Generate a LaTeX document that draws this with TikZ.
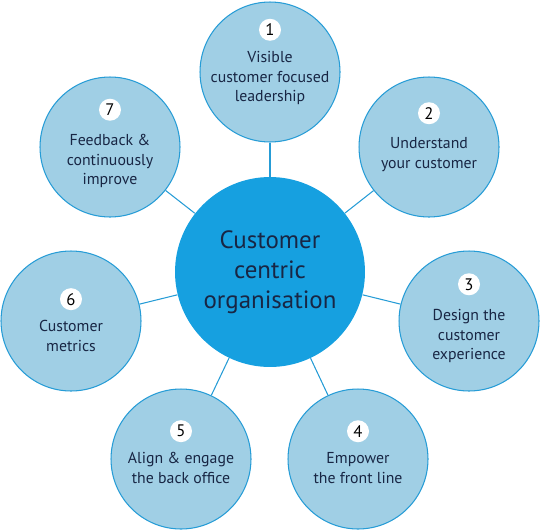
\documentclass[tikz,border=0pt]{standalone}
\usepackage{fontspec}
\setmainfont{PT Sans}
\usetikzlibrary{positioning}
\definecolor{ringblue}{RGB}{160,207,229}
\definecolor{coreblue}{RGB}{22,160,224}
\definecolor{edgeblue}{RGB}{38,156,214}
\definecolor{inkblue}{RGB}{24,38,68}

\begin{document}
\begin{tikzpicture}[x=0.02cm, y=-0.02cm,
     node distance = 1.9mm,
        core/.style = {circle, fill=coreblue, minimum size=3.8cm, inner sep=0pt,
                       align=center, text=inkblue, font=\fontsize{14.2}{17}\selectfont},
        ring/.style = {circle, draw=edgeblue, fill=ringblue, line width=0.6pt,
                       minimum size=2.8cm, inner sep=0pt},
        txt/.style  = {align=center, text=inkblue, inner sep=0pt,
                       font=\fontsize{9}{11.3}\selectfont},
        num/.style  = {circle, fill=white, minimum size=0.44cm, inner sep=0pt,
                       text=black, font=\fontsize{9.5}{11}\selectfont},
        link/.style = {draw=edgeblue, line width=0.6pt}
                        ]
\useasboundingbox (0,0) rectangle (540,531);
\node (core) [core] at (270,272) {Customer\\centric\\organisation};
\node (c1) [ring] at (270,72)  {};
\node (c2) [ring] at (429,147) {};
\node (c3) [ring] at (469,321) {};
\node (c4) [ring] at (358,459) {};
\node (c5) [ring] at (181,459) {};
\node (c6) [ring] at (71,321)  {};
\node (c7) [ring] at (110,147) {};
% texts inside the rings
\node (t1) [txt] at (270,78)  {Visible\\customer focused\\leadership};
\node (t2) [txt] at (429,155) {Understand\\your customer};
\node (t3) [txt] at (469,336) {Design the\\customer\\experience};
\node (t4) [txt] at (358,468) {Empower\\the front line};
\node (t5) [txt] at (181,468) {Align \& engage\\the back office};
\node (t6) [txt] at (71,336)  {Customer\\metrics};
\node (t7) [txt] at (110,161) {Feedback \&\\continuously\\improve};
% numbers
\node (n1) [num, above=of t1] {1};
\node (n2) [num, above=2.6mm of t2] {2};
\node (n3) [num, above=2.6mm of t3] {3};
\node (n4) [num, above=of t4] {4};
\node (n5) [num, above=of t5] {5};
\node (n6) [num, above=of t6] {6};
\node (n7) [num, above=2.5mm of t7] {7};
\draw[link] (core) -- (c1);
\draw[link] (core) -- (c2);
\draw[link] (core) -- (c3);
\draw[link] (core) -- (c4);
\draw[link] (core) -- (c5);
\draw[link] (core) -- (c6);
\draw[link] (core) -- (c7);
\end{tikzpicture}
\end{document}
